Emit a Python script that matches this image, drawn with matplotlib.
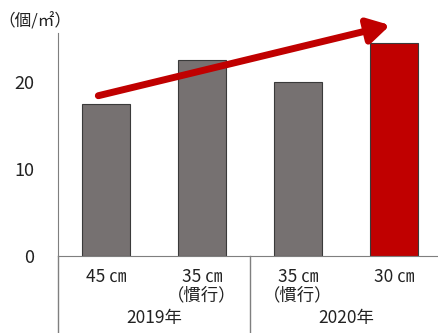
import matplotlib.pyplot as plt
import matplotlib.transforms as mtransforms

plt.rcParams["font.family"] = ["Noto Sans CJK JP", "DejaVu Sans"]

DPI = 100

spacings = ["45 ㎝", "35 ㎝\n（慣行）", "35 ㎝\n（慣行）", "30 ㎝"]
years = ["2019年", "2020年"]
counts = [17.4, 22.5, 20.0, 24.4]
bar_colors = ["#767171", "#767171", "#767171", "#C00000"]
y_ticks = [0, 10, 20]

fig = plt.figure(figsize=(438 / DPI, 333 / DPI), dpi=DPI)
ax = fig.add_axes([58 / 438, 77 / 333, 380 / 438, 223 / 333])

x = list(range(len(counts)))
ax.bar(x, counts, width=0.5, color=bar_colors, edgecolor="#3a3a3a", linewidth=0.8, zorder=2)

ax.set_xlim(-0.5, -0.5 + 380 / 96)
ax.set_ylim(0, 25.6)
ax.set_yticks(y_ticks)
ax.tick_params(axis="y", length=0, pad=17, labelsize=13, colors="#222222")
ax.set_xticks([])

for side in ["top", "right"]:
    ax.spines[side].set_visible(False)
ax.spines["left"].set_color("#7f7f7f")
ax.spines["bottom"].set_color("#7f7f7f")

# category labels below the axis
trans = mtransforms.blended_transform_factory(ax.transData, ax.transAxes)
for xi, lab in zip(x, spacings):
    ax.text(xi, -0.055, lab, transform=trans, ha="center", va="top",
            fontsize=12.5, color="#222222", linespacing=1.0)
for i, yr in enumerate(years):
    ax.text(2 * i + 0.5, -0.28, yr, transform=trans, ha="center", va="center",
            fontsize=12.5, color="#222222")

# group separators
for xv in [-0.5, 1.5]:
    ax.plot([xv, xv], [0, -0.35], transform=trans, color="#7f7f7f",
            linewidth=1, clip_on=False)

# trend arrow
ax.annotate("", xy=(2.96, 26.5), xytext=(-0.08, 18.4),
            arrowprops=dict(arrowstyle="-|>,head_length=1.3,head_width=0.75",
                            color="#C00000", lw=5, shrinkA=0, shrinkB=0),
            annotation_clip=False, zorder=3)

fig.text(35 / 438, 1 - 22 / 333, "（個/㎡）", ha="center", va="center",
         fontsize=12, color="#222222")

fig.savefig("out.png", dpi=DPI)
